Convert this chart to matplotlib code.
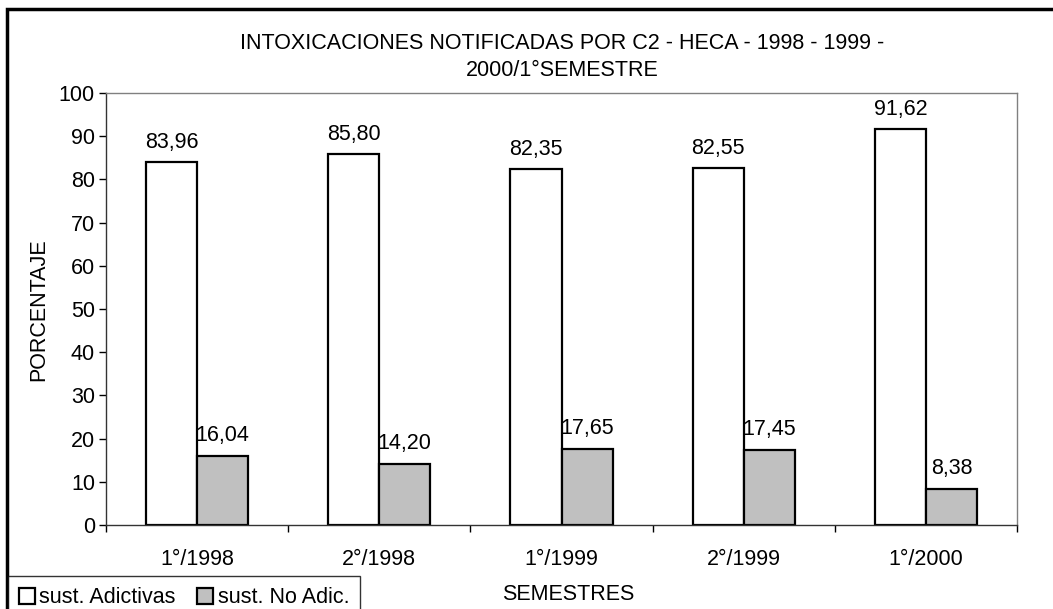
import numpy as np
import matplotlib
matplotlib.use("Agg")
import matplotlib.pyplot as plt
from matplotlib.patches import Rectangle

plt.rcParams['font.family'] = ['Liberation Sans', 'DejaVu Sans']

semestres = ["1°/1998", "2°/1998", "1°/1999", "2°/1999", "1°/2000"]
adictivas = [83.96, 85.80, 82.35, 82.55, 91.62]
no_adic = [16.04, 14.20, 17.65, 17.45, 8.38]

FS = 15.5
W, H = 1053, 609
fig = plt.figure(figsize=(W / 100, H / 100), dpi=100)
ax = fig.add_axes([106 / W, 1 - 525 / H, (1017 - 106) / W, (525 - 93) / H])

x = np.arange(len(semestres))
bw = 0.28
b1 = ax.bar(x - bw / 2, adictivas, bw, color="white", edgecolor="black",
            linewidth=1.6, label="sust. Adictivas")
b2 = ax.bar(x + bw / 2, no_adic, bw, color="#c0c0c0", edgecolor="black",
            linewidth=1.6, label="sust. No Adic.")

for bars, vals in ((b1, adictivas), (b2, no_adic)):
    for r, v in zip(bars, vals):
        ax.text(r.get_x() + r.get_width() / 2, v + 2.2, f"{v:.2f}".replace(".", ","),
                ha="center", va="bottom", fontsize=FS)

ax.set_xlim(-0.5, len(semestres) - 0.5)
ax.set_ylim(0, 100)
ax.set_yticks(range(0, 101, 10))
ax.set_xticks(x)
ax.set_xticklabels(semestres, fontsize=FS)
ax.set_xticks(np.arange(-0.5, len(semestres)), minor=True)
ax.tick_params(axis="x", which="major", length=0, pad=17)
ax.tick_params(axis="x", which="minor", length=5, width=1, direction="out")
ax.tick_params(axis="y", length=5, width=1, direction="out", labelsize=FS, pad=3)

for s in ("left", "bottom"):
    ax.spines[s].set_color("#333333")
    ax.spines[s].set_linewidth(1)
for s in ("top", "right"):
    ax.spines[s].set_color("#808080")
    ax.spines[s].set_linewidth(1)

fig.text(39 / W, 1 - 310 / H, "PORCENTAJE", rotation=90, ha="center",
         va="center", fontsize=FS)
fig.text(568 / W, 1 - 595 / H, "SEMESTRES", ha="center", va="center", fontsize=FS)
fig.text(562 / W, 1 - 57 / H,
         "INTOXICACIONES NOTIFICADAS POR C2 - HECA - 1998 - 1999 -\n2000/1°SEMESTRE",
         ha="center", va="center", fontsize=FS, linespacing=1.35)

# outer chart border (cut off at right and bottom)
fig.patches.append(Rectangle((7 / W, -0.05), 1.2, 1 - 9 / H + 0.05,
                             transform=fig.transFigure, fill=False,
                             edgecolor="black", linewidth=2.5))

leg = fig.legend(handles=[b1, b2], loc="lower left",
                 bbox_to_anchor=(8 / W, -10 / H), ncol=2, fontsize=FS,
                 frameon=True, fancybox=False, edgecolor="black",
                 handlelength=0.75, handleheight=0.75, handletextpad=0.2,
                 columnspacing=1.0, borderpad=0.5, borderaxespad=0)
leg.get_frame().set_linewidth(1)

fig.savefig("out.png", dpi=100)
